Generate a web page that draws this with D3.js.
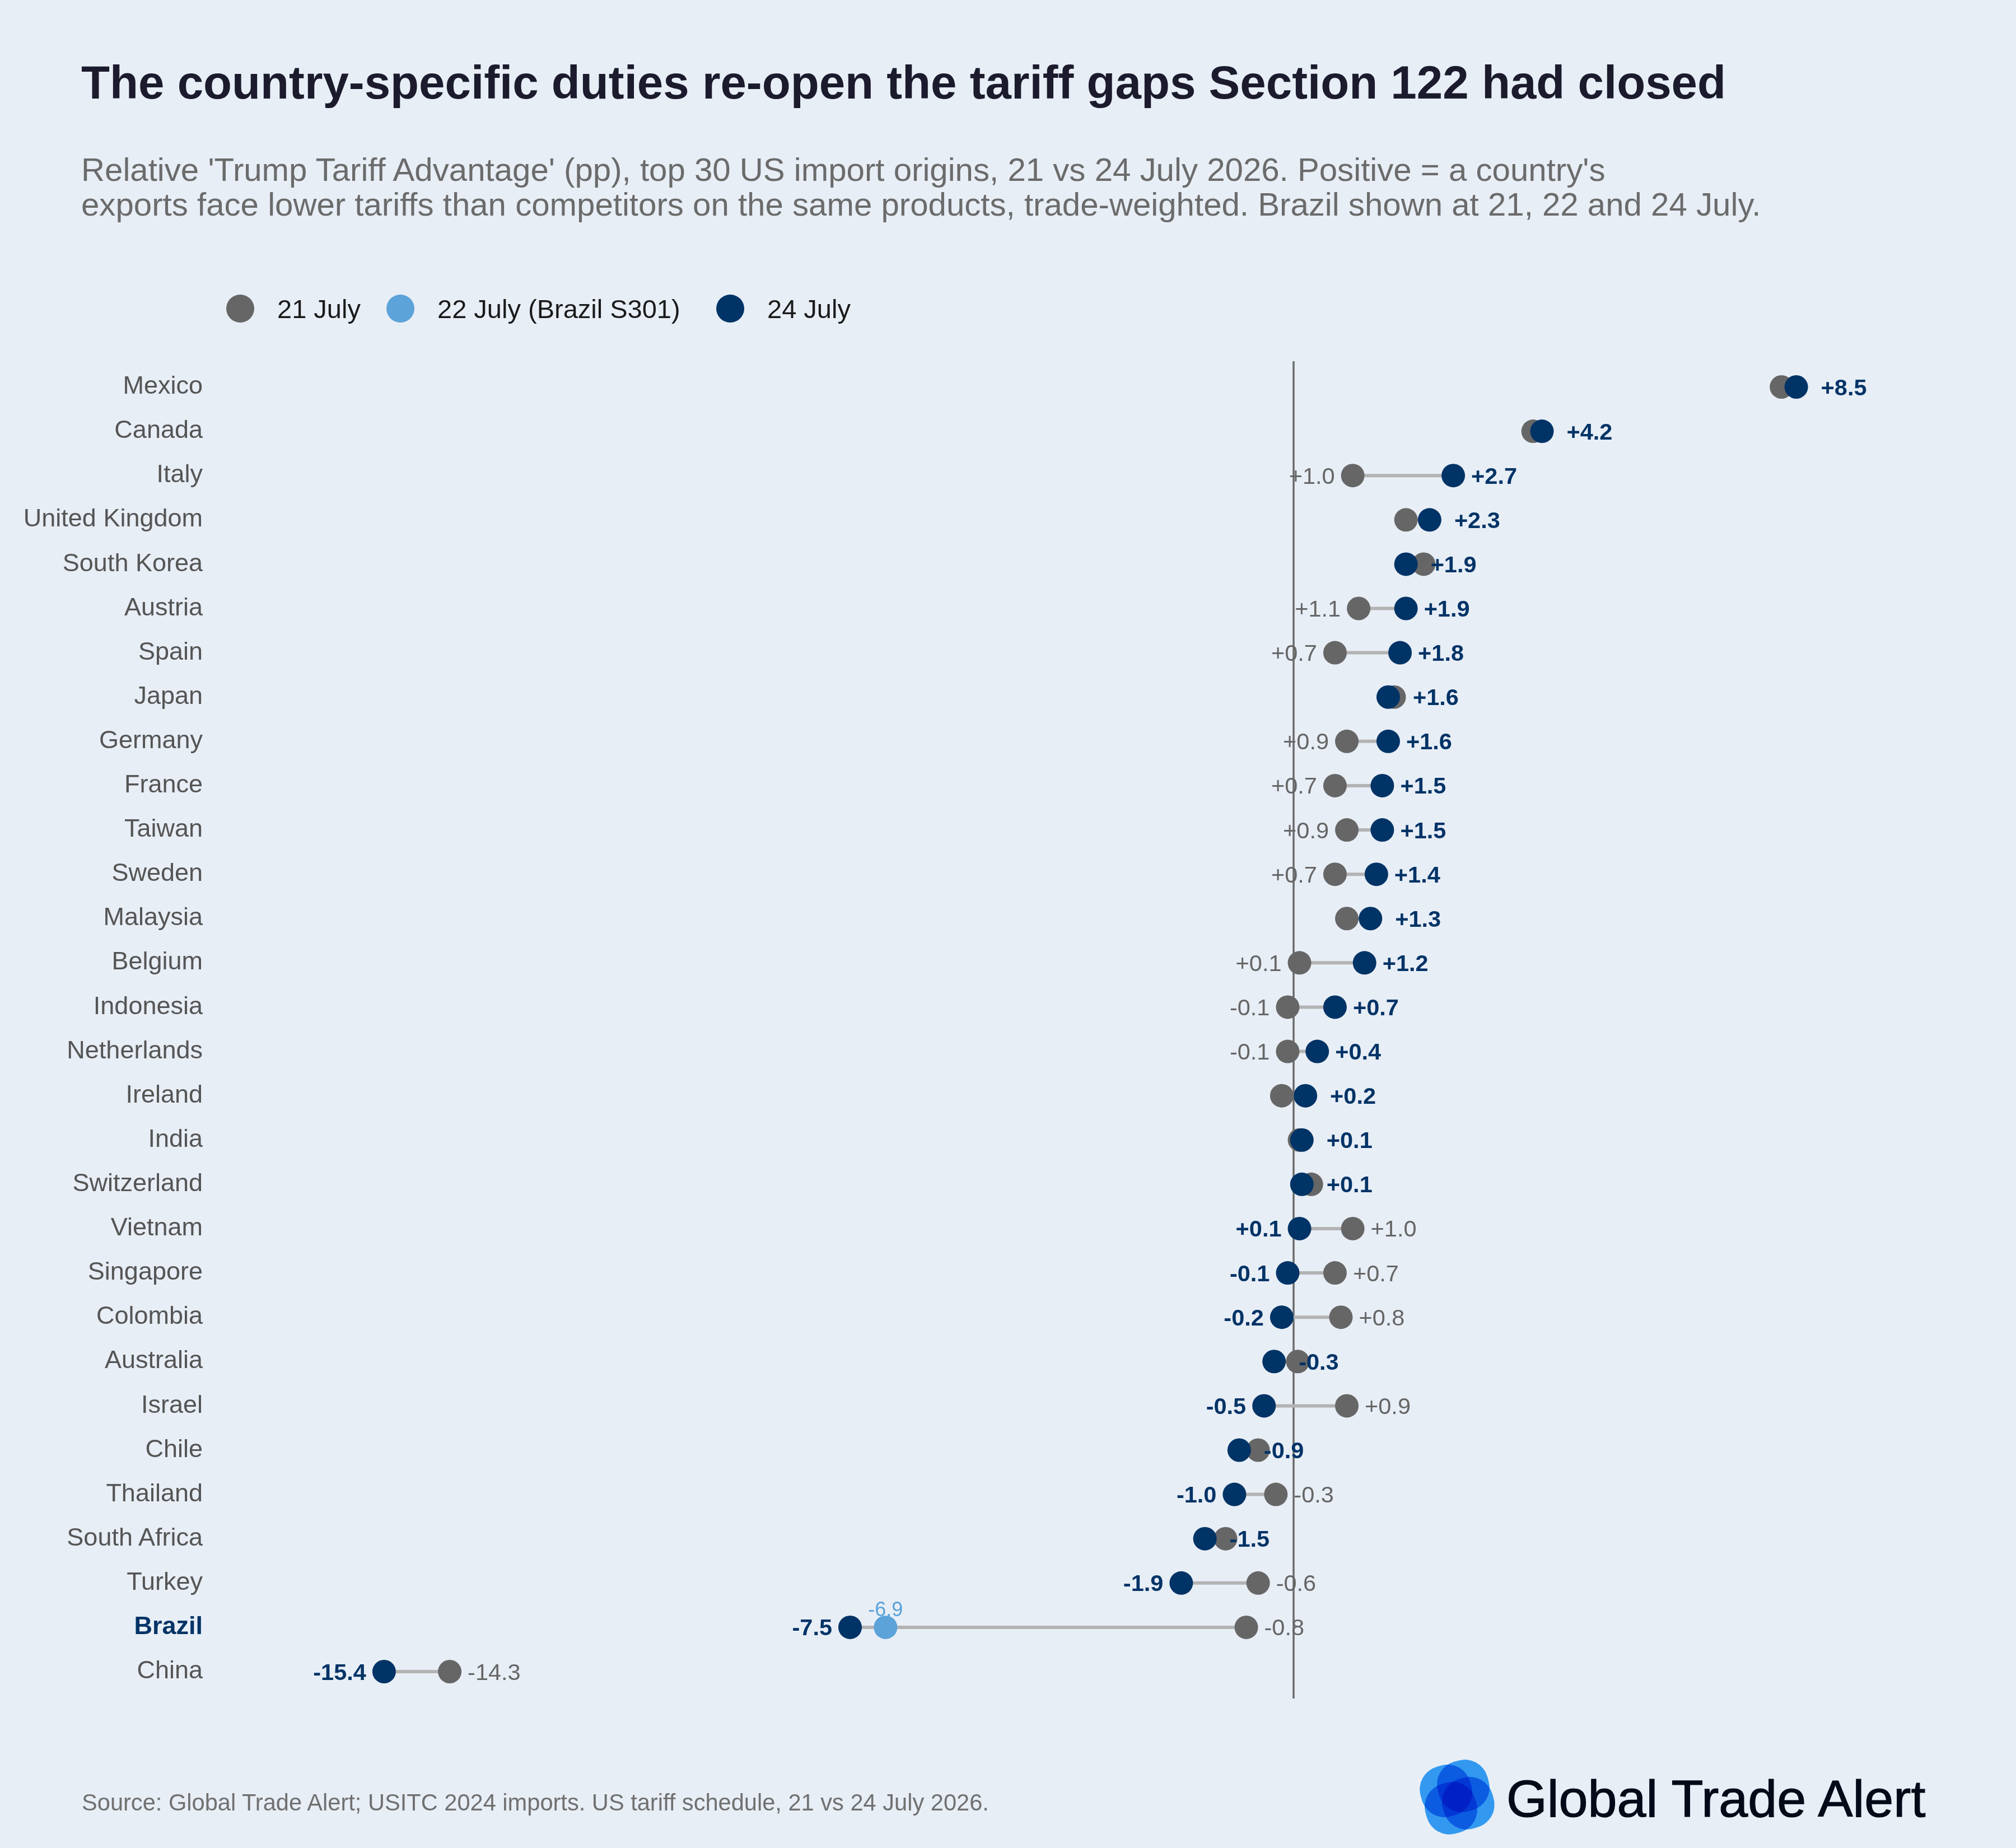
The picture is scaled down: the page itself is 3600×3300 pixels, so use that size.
<!DOCTYPE html>
<html>
<head>
<meta charset="utf-8">
<script src="https://cdn.jsdelivr.net/npm/d3@7"></script>
<style>
  html, body { margin: 0; padding: 0; background: #E8EEF6; }
  svg { display: block; }
  text { font-family: "Liberation Sans", Arial, Helvetica, sans-serif; }
</style>
</head>
<body>
<svg id="chart" width="3600" height="3300"></svg>
<script>
// ---------------- DATA ----------------
const countries = ["Mexico","Canada","Italy","United Kingdom","South Korea","Austria","Spain","Japan",
  "Germany","France","Taiwan","Sweden","Malaysia","Belgium","Indonesia","Netherlands","Ireland","India",
  "Switzerland","Vietnam","Singapore","Colombia","Australia","Israel","Chile","Thailand","South Africa",
  "Turkey","Brazil","China"];
const july21 = [8.25, 4.05, 1.0, 1.9, 2.2, 1.1, 0.7, 1.7,
  0.9, 0.7, 0.9, 0.7, 0.9, 0.1, -0.1, -0.1, -0.2, 0.1,
  0.3, 1.0, 0.7, 0.8, 0.07, 0.9, -0.6, -0.3, -1.15,
  -0.6, -0.8, -14.27];
const july24 = [8.5, 4.2, 2.7, 2.3, 1.9, 1.9, 1.8, 1.6,
  1.6, 1.5, 1.5, 1.4, 1.3, 1.2, 0.7, 0.4, 0.2, 0.14,
  0.14, 0.1, -0.1, -0.2, -0.33, -0.5, -0.92, -1.0, -1.5,
  -1.9, -7.5, -15.38];
const brazilJuly22 = -6.9;
const highlightCountry = "Brazil";
const legendLabels = ["21 July", "22 July (Brazil S301)", "24 July"];

const titleText = "The country-specific duties re-open the tariff gaps Section 122 had closed";
const subtitleLines = [
  "Relative 'Trump Tariff Advantage' (pp), top 30 US import origins, 21 vs 24 July 2026. Positive = a country's",
  "exports face lower tariffs than competitors on the same products, trade-weighted. Brazil shown at 21, 22 and 24 July."
];
const sourceText = "Source: Global Trade Alert; USITC 2024 imports. US tariff schedule, 21 vs 24 July 2026.";
const brandText = "Global Trade Alert";

// ---------------- STYLE ----------------
const C = {
  bg: "#E8EEF6", title: "#1b1b2d", sub: "#6b6b6b", gray: "#666666", navy: "#003366",
  light: "#5BA3D9", conn: "#b3b3b3", axis: "#6b6b6b", country: "#555555", legendText: "#1a1a1a"
};
const R = 21;

const rows = countries.map((c, i) => ({ c, g: july21[i], n: july24[i], mid: c === highlightCountry ? brazilJuly22 : null }));

const svg = d3.select("#chart");
svg.append("rect").attr("width", 3600).attr("height", 3300).attr("fill", C.bg);

// Title & subtitle
svg.append("text").attr("x", 145).attr("y", 176).attr("font-size", 83.5).attr("font-weight", 700)
  .attr("fill", C.title).text(titleText);
svg.selectAll("text.sub").data(subtitleLines).join("text").attr("class", "sub")
  .attr("x", 145).attr("y", (d, i) => 323 + i * 62).attr("font-size", 58.2).attr("fill", C.sub).text(d => d);

// Scales
const x = d3.scaleLinear().domain([-17, 10]).range([2310 - 17 * 105.6, 2310 + 10 * 105.6]);
const y = d3.scalePoint().domain(countries).range([691, 2985]);

// Legend
const legendColors = [C.gray, C.light, C.navy];
const legendX = [429, 715, 1304];
const lg = svg.append("g");
legendLabels.forEach((t, i) => {
  lg.append("circle").attr("cx", legendX[i]).attr("cy", 551).attr("r", 25).attr("fill", legendColors[i]);
  lg.append("text").attr("x", legendX[i] + 66).attr("y", 551).attr("dy", "0.36em")
    .attr("font-size", 47).attr("fill", C.legendText).text(t);
});

// Zero line
svg.append("line").attr("x1", x(0)).attr("x2", x(0)).attr("y1", 645).attr("y2", 3033)
  .attr("stroke", C.axis).attr("stroke-width", 3.5);

// Country labels
svg.append("g").selectAll("text").data(rows).join("text")
  .attr("x", 362).attr("y", d => y(d.c)).attr("dy", "0.27em").attr("text-anchor", "end")
  .attr("font-size", 45)
  .attr("font-weight", d => d.c === highlightCountry ? 700 : 400)
  .attr("fill", d => d.c === highlightCountry ? C.navy : C.country)
  .text(d => d.c);

// Connectors
svg.append("g").selectAll("line").data(rows).join("line")
  .attr("x1", d => x(Math.min(d.g, d.n))).attr("x2", d => x(Math.max(d.g, d.n)))
  .attr("y1", d => y(d.c)).attr("y2", d => y(d.c))
  .attr("stroke", C.conn).attr("stroke-width", 6);

// Dots
const dots = svg.append("g");
dots.selectAll("circle.g").data(rows).join("circle").attr("class", "g")
  .attr("cx", d => x(d.g)).attr("cy", d => y(d.c)).attr("r", R).attr("fill", C.gray);
dots.selectAll("circle.m").data(rows.filter(d => d.mid !== null)).join("circle").attr("class", "m")
  .attr("cx", d => x(d.mid)).attr("cy", d => y(d.c)).attr("r", R).attr("fill", C.light);
dots.selectAll("circle.n").data(rows).join("circle").attr("class", "n")
  .attr("cx", d => x(d.n)).attr("cy", d => y(d.c)).attr("r", R).attr("fill", C.navy);

// Labels
const fmt = v => (v >= 0 ? "+" : "-") + Math.abs(v).toFixed(1);
const labels = svg.append("g").attr("font-size", 41.5);
rows.forEach(d => {
  const yy = y(d.c);
  const diff = d.n - d.g;
  if (Math.abs(diff) >= 0.45) {
    if (diff > 0) {
      labels.append("text").attr("x", x(d.g) - 32).attr("y", yy).attr("dy", "0.35em").attr("text-anchor", "end")
        .attr("fill", C.gray).text(fmt(d.g));
      labels.append("text").attr("x", x(d.n) + 32).attr("y", yy).attr("dy", "0.35em").attr("text-anchor", "start")
        .attr("fill", C.navy).attr("font-weight", 700).text(fmt(d.n));
    } else {
      labels.append("text").attr("x", x(d.n) - 32).attr("y", yy).attr("dy", "0.35em").attr("text-anchor", "end")
        .attr("fill", C.navy).attr("font-weight", 700).text(fmt(d.n));
      labels.append("text").attr("x", x(d.g) + 32).attr("y", yy).attr("dy", "0.35em").attr("text-anchor", "start")
        .attr("fill", C.gray).text(fmt(d.g));
    }
  } else {
    labels.append("text").attr("x", x(d.n) + 44).attr("y", yy).attr("dy", "0.35em").attr("text-anchor", "start")
      .attr("fill", C.navy).attr("font-weight", 700).text(fmt(d.n));
  }
  if (d.mid !== null) {
    labels.append("text").attr("x", x(d.mid)).attr("y", yy - R + 1).attr("text-anchor", "middle")
      .attr("font-size", 36).attr("fill", C.light).text(fmt(d.mid));
  }
});

// Footer
svg.append("text").attr("x", 146).attr("y", 3233).attr("font-size", 41.6).attr("fill", "#707070").text(sourceText);

// Logo
const logo = svg.append("g").attr("transform", "translate(2602,3209) rotate(-16)").style("isolation", "isolate");
const offs = [[-16, -16], [16, -16], [16, 16], [-16, 16]];
offs.forEach(([dx, dy]) => {
  logo.append("rect").attr("x", dx - 46).attr("y", dy - 46).attr("width", 92).attr("height", 92)
    .attr("rx", 42).attr("fill", "rgb(51,153,240)").style("mix-blend-mode", "multiply");
});
svg.append("text").attr("x", 2690).attr("y", 3244).attr("font-size", 93.5).attr("fill", "#050a18")
  .attr("stroke", "#050a18").attr("stroke-width", 1.2).text(brandText);
</script>
</body>
</html>
